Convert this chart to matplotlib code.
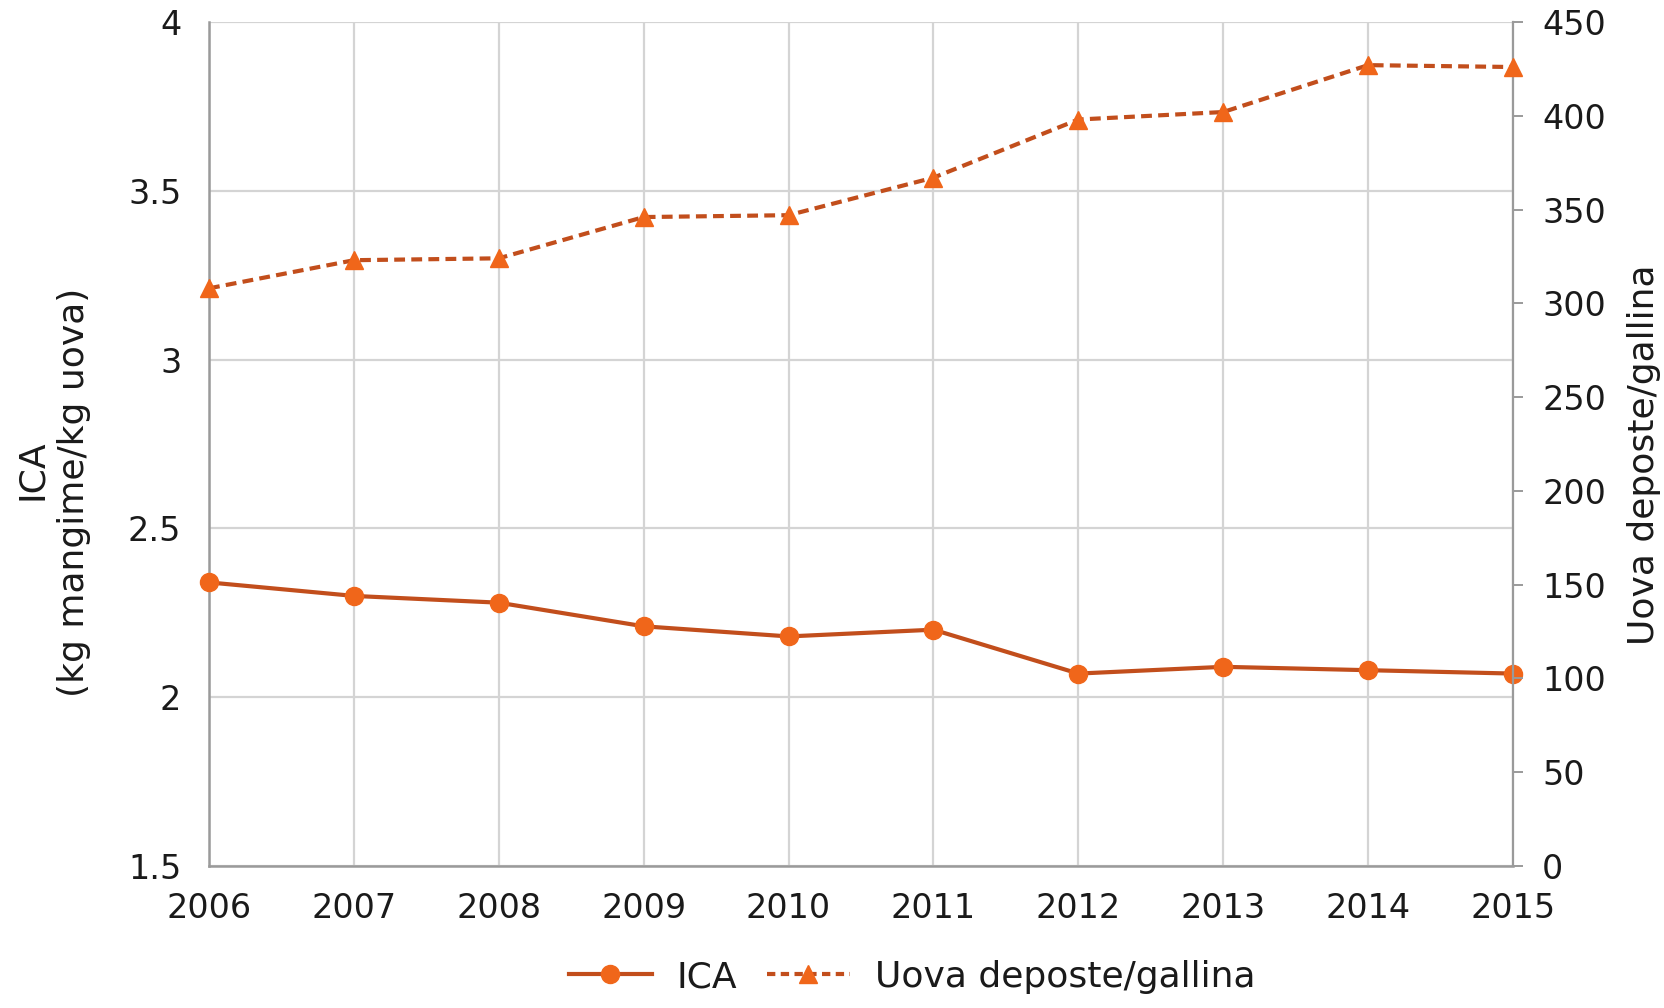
import matplotlib
matplotlib.use("Agg")
import matplotlib.pyplot as plt
from matplotlib.lines import Line2D

# Data
years = [2006, 2007, 2008, 2009, 2010, 2011, 2012, 2013, 2014, 2015]
ica = [2.34, 2.30, 2.28, 2.21, 2.18, 2.20, 2.07, 2.09, 2.08, 2.07]
uova = [308, 323, 324, 346, 347, 367, 398, 402, 427, 426]

left_ticks = [1.5, 2, 2.5, 3, 3.5, 4]
left_ticklabels = ["1.5", "2", "2.5", "3", "3.5", "4"]
right_ticks = [0, 50, 100, 150, 200, 250, 300, 350, 400, 450]

LINE = "#C24E1C"
MARK = "#F0661A"
GRID = "#D4D4D4"
SPINE = "#9A9A9A"
TXT = "#1a1a1a"

plt.rcParams["font.family"] = ["DejaVu Sans"]

fig = plt.figure(figsize=(16.65, 10.08), dpi=100)
ax = fig.add_axes([209 / 1665, 1 - 866 / 1008, (1513 - 209) / 1665, (866 - 22) / 1008])
ax2 = ax.twinx()

ax.set_xlim(2006, 2015)
ax.set_ylim(1.5, 4)
ax2.set_ylim(0, 450)

ax.set_xticks(years)
ax.set_xticklabels([str(y) for y in years])
ax.set_yticks(left_ticks)
ax.set_yticklabels(left_ticklabels)
ax2.set_yticks(right_ticks)

ax.grid(True, color=GRID, linewidth=1.6)
ax.set_axisbelow(True)

ax.spines["top"].set_visible(False)
ax2.spines["top"].set_visible(False)
ax.spines["left"].set_color(SPINE)
ax.spines["bottom"].set_color(SPINE)
ax.spines["left"].set_linewidth(1.8)
ax.spines["bottom"].set_linewidth(1.8)
ax2.spines["right"].set_color(SPINE)
ax2.spines["right"].set_linewidth(1.6)
ax2.spines["left"].set_visible(False)
ax2.spines["bottom"].set_visible(False)
ax.spines["right"].set_visible(False)

ax.tick_params(axis="x", length=0, pad=19, labelsize=24, labelcolor=TXT)
ax.tick_params(axis="y", length=0, pad=20, labelsize=24, labelcolor=TXT)
ax2.tick_params(axis="y", length=7, width=1.4, color=SPINE, direction="out",
                pad=14, labelsize=24, labelcolor=TXT)

ax.plot(years, ica, color=LINE, linewidth=3.0, marker="o", markersize=13,
        markerfacecolor=MARK, markeredgecolor=MARK, zorder=3, clip_on=False)
ax2.plot(years, uova, color=LINE, linewidth=3.0, linestyle=(0, (2.6, 1.5)),
         marker="^", markersize=13, markerfacecolor=MARK, markeredgecolor=MARK,
         zorder=3, clip_on=False)

fig.text(32 / 1665, 1 - 470 / 1008, "ICA", rotation=90, ha="center", va="center",
         fontsize=26, color=TXT)
fig.text(74 / 1665, 1 - 492 / 1008, "(kg mangime/kg uova)", rotation=90,
         ha="center", va="center", fontsize=26, color=TXT)
fig.text(1644 / 1665, 1 - 455 / 1008, "Uova deposte/gallina", rotation=90,
         ha="center", va="center", fontsize=26, color=TXT)

handles = [
    Line2D([], [], color=LINE, linewidth=3.0, marker="o", markersize=13,
           markerfacecolor=MARK, markeredgecolor=MARK),
    Line2D([], [], color=LINE, linewidth=3.0, linestyle=(0, (2.0, 1.3)), marker="^",
           markersize=13, markerfacecolor=MARK, markeredgecolor=MARK),
]
leg = fig.legend(handles, ["ICA", "Uova deposte/gallina"], loc="center",
                 bbox_to_anchor=(912 / 1665, 1 - 977 / 1008), ncol=2, frameon=False,
                 fontsize=26, handlelength=2.3, handletextpad=0.7,
                 columnspacing=0.8)
for t in leg.get_texts():
    t.set_color(TXT)

fig.savefig("out.png", dpi=100, facecolor="white")
